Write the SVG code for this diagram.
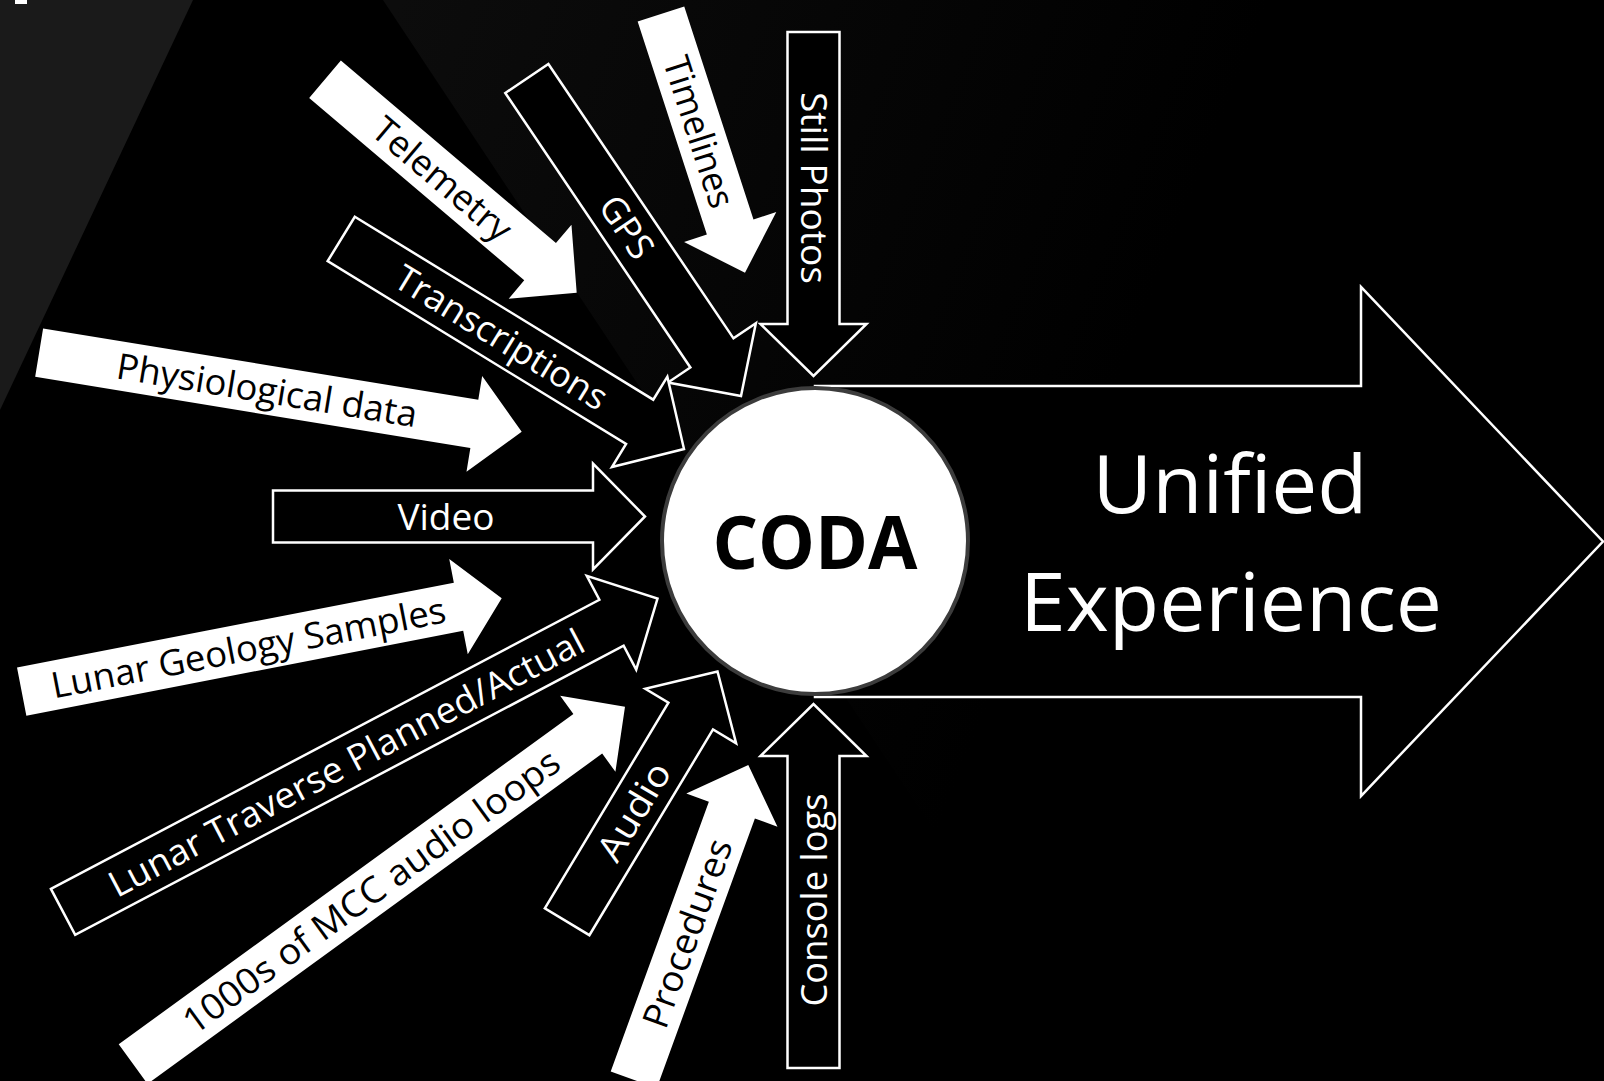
<svg xmlns="http://www.w3.org/2000/svg" width="1604" height="1081" viewBox="0 0 1604 1081">
<style>
.ab{fill:#000;stroke:#fff;stroke-width:2.5;stroke-linejoin:miter}
.aw{fill:#fff;stroke:none}
.lb{font-family:"Open Sans","Noto Sans","DejaVu Sans",sans-serif;font-size:36px;text-anchor:middle}
.tw{fill:#fff}
.tb{fill:#000}
.big{font-family:"Open Sans","Noto Sans","DejaVu Sans",sans-serif;font-size:80px;fill:#fff;text-anchor:middle}
.coda{font-family:"Open Sans","Noto Sans","DejaVu Sans",sans-serif;font-size:74px;font-weight:bold;fill:#000;text-anchor:middle}
</style>
<defs>
<linearGradient id="bgfade" gradientUnits="userSpaceOnUse" x1="400" y1="0" x2="1150" y2="300">
<stop offset="0" stop-color="#0c0c0c"/>
<stop offset="1" stop-color="#000"/>
</linearGradient>
</defs>
<rect width="1604" height="1081" fill="#000"/>
<polygon points="383,0 1604,0 1604,1081 1100,1081" fill="url(#bgfade)"/>
<polygon points="0,0 193,0 0,410" fill="#1a1a1a"/>
<rect x="15" y="0" width="12" height="4" fill="#fff"/>

<g id="unified-experience">
<polygon class="ab" points="815,386 1361,386 1361,287 1603,541.5 1361,796 1361,697 815,697"/>
<text class="big" x="1230" y="513" textLength="275" lengthAdjust="spacingAndGlyphs">Unified</text>
<text class="big" x="1231" y="631" textLength="422" lengthAdjust="spacingAndGlyphs">Experience</text>
</g>

<g id="still-photos" transform="translate(813.5,376) rotate(90)">
<polygon class="ab" points="-344,-26 -52,-26 -52,-53 0,0 -52,53 -52,26 -344,26"/>
<text class="lb tw" x="-188" y="13" textLength="192" lengthAdjust="spacingAndGlyphs">Still Photos</text>
</g>

<g id="timelines" transform="translate(745,272.7) rotate(72)">
<polygon class="aw" points="-272,-24.5 -48,-24.5 -48,-48.5 0,0 -48,48.5 -48,24.5 -272,24.5"/>
<text class="lb tb" x="-148" y="13" textLength="157" lengthAdjust="spacingAndGlyphs">Timelines</text>
</g>

<g id="gps" transform="translate(741,396) rotate(56)">
<polygon class="ab" points="-383,-26 -52,-26 -52,-53 0,0 -52,53 -52,26 -383,26"/>
<text class="lb tw" x="-204" y="13" textLength="68" lengthAdjust="spacingAndGlyphs">GPS</text>
</g>

<g id="telemetry" transform="translate(576.7,292.7) rotate(40.3)">
<polygon class="aw" points="-330,-24.5 -48,-24.5 -48,-48.5 0,0 -48,48.5 -48,24.5 -330,24.5"/>
<text class="lb tb" x="-176" y="13" textLength="170" lengthAdjust="spacingAndGlyphs">Telemetry</text>
</g>

<g id="transcriptions" transform="translate(684,449) rotate(31.5)">
<polygon class="ab" points="-402,-26 -52,-26 -52,-53 0,0 -52,53 -52,26 -402,26"/>
<text class="lb tw" x="-214" y="13" textLength="242" lengthAdjust="spacingAndGlyphs">Transcriptions</text>
</g>

<g id="physiological-data" transform="translate(521.7,431.7) rotate(9.3)">
<polygon class="aw" points="-489,-24.5 -48,-24.5 -48,-48.5 0,0 -48,48.5 -48,24.5 -489,24.5"/>
<text class="lb tb" x="-258" y="13" textLength="304" lengthAdjust="spacingAndGlyphs">Physiological data</text>
</g>

<g id="video" transform="translate(645,516.5)">
<polygon class="ab" points="-372,-26 -52,-26 -52,-53 0,0 -52,53 -52,26 -372,26"/>
<text class="lb tw" x="-199" y="13" textLength="97" lengthAdjust="spacingAndGlyphs">Video</text>
</g>

<g id="lunar-geology-samples" transform="translate(501.7,598.3) rotate(-11)">
<polygon class="aw" points="-489,-24.5 -44,-24.5 -44,-48.5 0,0 -44,48.5 -44,24.5 -489,24.5"/>
<text class="lb tb" x="-258" y="13" textLength="401" lengthAdjust="spacingAndGlyphs">Lunar Geology Samples</text>
</g>

<g id="lunar-traverse" transform="translate(657.5,598.5) rotate(-27.8)">
<polygon class="ab" points="-672,-26 -52,-26 -52,-53 0,0 -52,53 -52,26 -672,26"/>
<text class="lb tw" x="-352" y="13" textLength="532" lengthAdjust="spacingAndGlyphs">Lunar Traverse Planned/Actual</text>
</g>

<g id="mcc-audio-loops" transform="translate(625,706.7) rotate(-36)">
<polygon class="aw" points="-608,-24.5 -46,-24.5 -46,-47 0,0 -46,47 -46,24.5 -608,24.5"/>
<text class="lb tb" x="-314" y="13" textLength="456" lengthAdjust="spacingAndGlyphs">1000s of MCC audio loops</text>
</g>

<g id="audio" transform="translate(717.5,671.5) rotate(-59)">
<polygon class="ab" points="-292,-26 -52,-26 -52,-53 0,0 -52,53 -52,26 -292,26"/>
<text class="lb tw" x="-163" y="13" textLength="108" lengthAdjust="spacingAndGlyphs">Audio</text>
</g>

<g id="procedures" transform="translate(748.3,765) rotate(-70)">
<polygon class="aw" points="-335,-24.5 -48,-24.5 -48,-48.5 0,0 -48,48.5 -48,24.5 -335,24.5"/>
<text class="lb tb" x="-179" y="13" textLength="198" lengthAdjust="spacingAndGlyphs">Procedures</text>
</g>

<g id="console-logs" transform="translate(813.5,704) rotate(-90)">
<polygon class="ab" points="-364,-26 -52,-26 -52,-53 0,0 -52,53 -52,26 -364,26"/>
<text class="lb tw" x="-196" y="13" textLength="213" lengthAdjust="spacingAndGlyphs">Console logs</text>
</g>

<g id="coda">
<circle cx="815" cy="541" r="153" fill="#fff" stroke="#3c3c3c" stroke-width="4"/>
<text class="coda" x="815" y="569" textLength="205" lengthAdjust="spacingAndGlyphs">CODA</text>
</g>
</svg>
